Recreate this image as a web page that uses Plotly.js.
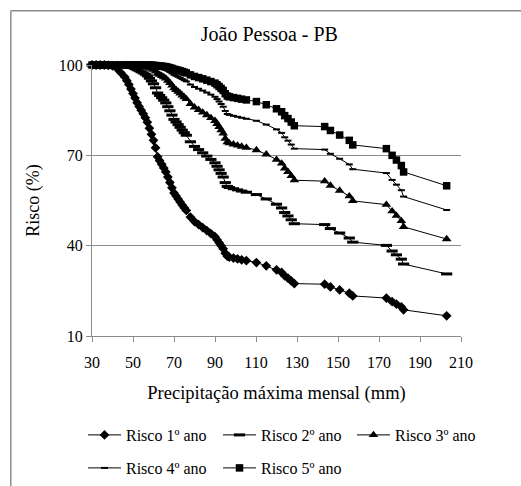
<!DOCTYPE html>
<html>
<head>
<meta charset="utf-8">
<script src="https://cdn.plot.ly/plotly-3.0.1.min.js"></script>
<style>html,body{margin:0;padding:0;background:#fff;}#chart{width:521px;height:486px;}</style>
</head>
<body>
<div id="chart"></div>
<script>
const precip = [30,32,34,36,38,40,42,44,46,47,48,49,50,51,52,53,54,55,56,57,58,59,60,61,62,63,64,65,66,67,68,69,70,71,72,73,74,75,76,78,80,82,84,86,88,90,91,92,93,94,95,96,97,99,101,103,105.3,110.2,115,120,122.5,124,125.6,127.2,128.7,143.5,146.3,150.8,155.5,157.2,173.6,176.4,178.5,180.9,182,203];

const risco1 = [100,100,100,100,99.9,99.7,99,97.5,96,94.8,93.5,92,90.5,89,87.5,86.2,85,83.8,82.5,81,79,77,75,72.5,69.5,68.2,67,65.8,64.5,62.8,61,59.2,57.5,56.5,55.5,54.5,53.5,52.6,51.7,49.5,48,47,46,45,44,43,42,41,40,39,37.5,36.5,36.2,35.9,35.6,35.3,35,34.4,33.3,32,31.1,30,29.2,28.3,27.4,27.2,26.3,25.3,24.2,23.3,22.6,21.4,20.6,19.7,18.7,16.7];

const risco2 = [100,100,100,100,100,100,99.99,99.94,99.84,99.73,99.58,99.36,99.1,98.79,98.44,98.1,97.75,97.38,96.94,96.39,95.59,94.71,93.75,92.44,90.7,89.89,89.11,88.3,87.4,86.16,84.79,83.35,81.94,81.08,80.2,79.3,78.38,77.53,76.67,74.5,72.96,71.91,70.84,69.75,68.64,67.51,66.36,65.19,64,62.79,60.94,59.68,59.3,58.91,58.53,58.14,57.75,56.97,55.51,53.76,52.53,51,49.87,48.59,47.29,47,45.68,44.2,42.54,41.17,40.09,38.22,36.96,35.52,33.9,30.61];

const risco3 = [100,100,100,100,100,100,100,100,99.99,99.99,99.97,99.95,99.91,99.87,99.8,99.74,99.66,99.57,99.46,99.31,99.07,98.78,98.44,97.92,97.16,96.78,96.41,96,95.53,94.85,94.07,93.21,92.32,91.77,91.19,90.58,89.95,89.35,88.73,87.12,85.94,85.11,84.25,83.36,82.44,81.48,80.49,79.46,78.4,77.3,75.59,74.4,74.03,73.66,73.29,72.92,72.54,71.77,70.33,68.56,67.29,65.7,64.51,63.14,61.73,61.42,59.97,58.32,56.45,54.88,53.63,51.44,49.94,48.22,46.26,42.2];

const risco4 = [100,100,100,100,100,100,100,100,100,100,100,100,99.99,99.99,99.98,99.96,99.95,99.93,99.91,99.87,99.81,99.72,99.61,99.43,99.13,98.98,98.81,98.63,98.41,98.09,97.69,97.23,96.74,96.42,96.08,95.71,95.32,94.95,94.56,93.5,92.69,92.11,91.5,90.85,90.17,89.44,88.68,87.88,87.04,86.15,84.74,83.74,83.43,83.12,82.8,82.48,82.15,81.48,80.21,78.62,77.46,75.99,74.87,73.57,72.22,71.91,70.5,68.86,66.99,65.39,64.11,61.83,60.26,58.42,56.31,51.85];

const risco5 = [100,100,100,100,100,100,100,100,100,100,100,100,100,100,100,99.99,99.99,99.99,99.98,99.98,99.96,99.94,99.9,99.84,99.74,99.67,99.61,99.53,99.44,99.29,99.1,98.87,98.61,98.44,98.26,98.05,97.83,97.61,97.37,96.72,96.2,95.82,95.41,94.97,94.49,93.98,93.44,92.85,92.22,91.55,90.46,89.68,89.43,89.18,88.92,88.66,88.4,87.85,86.8,85.46,84.47,83.19,82.21,81.05,79.83,79.55,78.26,76.74,74.98,73.46,72.22,70,68.44,66.61,64.48,59.89];

const seriesNames = ['Risco 1º ano','Risco 2º ano','Risco 3º ano','Risco 4º ano','Risco 5º ano'];
const xTicks = [30,50,70,90,110,130,150,170,190,210];
const yTicks = [10,40,70,100];

const font = '"Liberation Serif", "Times New Roman", serif';
const markers = [
  {symbol:'diamond', size:7.5, color:'#000'},
  {symbol:'line-ew', size:8, color:'#000', line:{color:'#000', width:3}},
  {symbol:'triangle-up', size:8.5, color:'#000'},
  {symbol:'line-ew', size:5, color:'#000', line:{color:'#000', width:2}},
  {symbol:'square', size:7.5, color:'#000'}
];
const legendIds = ['legend','legend2','legend3','legend4','legend5'];
const ys = [risco1, risco2, risco3, risco4, risco5];
const traces = ys.map((y,i)=>({
  x: precip, y: y, type:'scatter', mode:'lines+markers', name: seriesNames[i],
  line:{color:'#000', width:1}, marker: markers[i], cliponaxis:false, legend: legendIds[i]
}));

function legendAt(px, py) {
  return {orientation:'h', xref:'container', xanchor:'left', yref:'container', yanchor:'top',
    x: px/521, y: 1 - py/486,
    font:{family:font, size:16, color:'#000'}, itemwidth:33, bgcolor:'rgba(0,0,0,0)'};
}

const layout = {
  width:521, height:486,
  margin:{l:92, r:60, t:65, b:150},
  paper_bgcolor:'#fff', plot_bgcolor:'#fff',
  font:{family:font, size:16, color:'#000'},
  showlegend:true,
  title:{text:'João Pessoa - PB', x:0.517, xref:'container', y:1-27/486, yref:'container', xanchor:'center', yanchor:'top', font:{family:font, size:20, color:'#000'}},
  xaxis:{range:[30,210], tickvals:xTicks, ticktext:xTicks.map(String), showgrid:false, zeroline:false,
    showline:true, linecolor:'#8c8c8c', linewidth:1, ticks:'outside', ticklen:5, tickcolor:'#8c8c8c', ticklabelstandoff:7,
    tickfont:{family:font, size:16, color:'#000'}, title:{text:'Precipitação máxima mensal (mm)', font:{family:font, size:18.5, color:'#000'}, standoff:15}},
  yaxis:{range:[10,100], tickvals:yTicks, ticktext:yTicks.map(String), showgrid:true, gridcolor:'#8c8c8c', gridwidth:1, zeroline:false,
    showline:true, linecolor:'#8c8c8c', linewidth:1, ticks:'outside', ticklen:5, tickcolor:'#8c8c8c',
    tickfont:{family:font, size:16, color:'#000'}, title:{text:'Risco (%)', font:{family:font, size:18, color:'#000'}, standoff:14}},
  legend: legendAt(83, 418),
  legend2: legendAt(218, 418),
  legend3: legendAt(352, 418),
  legend4: legendAt(83, 451),
  legend5: legendAt(218, 451),
  shapes:[
    {type:'line', xref:'paper', yref:'paper', x0:-0.22, x1:1.2, y0:1.2, y1:1.2, line:{color:'#8c8c8c', width:1.5}},
    {type:'line', xref:'paper', yref:'paper', x0:-0.22, x1:-0.22, y0:1.2, y1:-0.6, line:{color:'#8c8c8c', width:1.5}}
  ]
};

Plotly.newPlot('chart', traces, layout, {displayModeBar:false, staticPlot:true});
</script>
</body>
</html>
